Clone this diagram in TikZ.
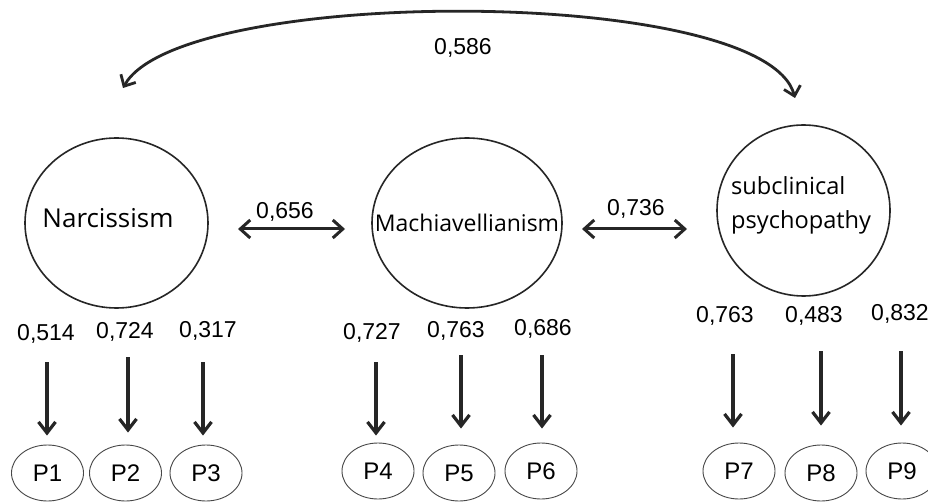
\documentclass[tikz,border=0pt]{standalone}
\usepackage{fontspec}
\setmainfont{Liberation Sans}
\newfontfamily\circfont{Open Sans}
\usetikzlibrary{arrows.meta,shapes.geometric}
\definecolor{ln}{HTML}{262626}
\begin{document}
\begin{tikzpicture}[x=1pt,y=-1pt,
 latent/.style={draw=ln, line width=1.6pt, ellipse, inner sep=0pt},
 obs/.style={draw=ln!85, line width=0.9pt, ellipse, inner sep=0pt, minimum width=72pt, minimum height=56pt, font=\fontsize{24}{24}\selectfont},
 num/.style={font=\fontsize{23}{23}\selectfont, inner sep=0pt},
 ctext/.style={font=\circfont\fontsize{23.6}{34}\selectfont, inner sep=0pt},
 load/.style={draw=ln, line width=3.2pt, -{Straight Barb[length=11pt,width=17pt]}},
 corr/.style={draw=ln, line width=3pt, {Straight Barb[length=10pt,width=18pt]}-{Straight Barb[length=10pt,width=18pt]}},
 arcline/.style={draw=ln, line width=2.8pt, {Straight Barb[length=9pt,width=17pt]}-{Straight Barb[length=9pt,width=17pt]}}
]
\path[use as bounding box, fill=white] (0,0) rectangle (928,502);

% latent variables
\node[latent, minimum width=183pt, minimum height=170pt] (N) at (116.5,223) {};
\node[latent, minimum width=190pt, minimum height=170pt] (M) at (467,223) {};
\node[latent, minimum width=173pt, minimum height=171pt] (S) at (803.5,210.5) {};
\node[ctext, font=\circfont\fontsize{26}{34}\selectfont] (Nt) at (108,218) {Narcissism};
\node[ctext, font=\circfont\fontsize{23}{34}\selectfont] (Mt) at (467,223) {Machiavellianism};
\node[ctext, align=left, anchor=west] (St) at (731,205) {subclinical\\psychopathy};

% covariances
\coordinate (c1a) at (238,229);
\coordinate (c1b) at (345,229);
\coordinate (c2a) at (582,229);
\coordinate (c2b) at (687,229);
\draw[corr] (c1a) -- (c1b);
\draw[corr] (c2a) -- (c2b);
\node[num] (v656) at (285,212) {0,656};
\node[num] (v736) at (636,209) {0,736};

\coordinate (ar1) at (123,88);
\coordinate (ar2) at (795,98);
\draw[arcline] (ar1) .. controls (180,-15) and (765,-15) .. (ar2);
\node[num] (v586) at (463,48) {0,586};

% observed
\node[obs] (P1) at (47.5,473) {P1};
\node[obs] (P2) at (125.5,473) {\raisebox{-3pt}{P2}};
\node[obs] (P3) at (206,473) {\raisebox{-2pt}{P3}};
\node[obs] (P4) at (378,471) {\raisebox{-1pt}{P4}};
\node[obs] (P5) at (459,473) {\raisebox{-3pt}{P5}};
\node[obs] (P6) at (541,471) {\raisebox{-2pt}{P6}};
\node[obs] (P7) at (739,471) {\raisebox{-1pt}{P7}};
\node[obs] (P8) at (821,473) {\raisebox{-5pt}{P8}};
\node[obs] (P9) at (902,471) {\raisebox{-2pt}{P9}};

% loadings labels
\node[num] (l1) at (46,334) {0,514};
\node[num] (l2) at (125,332) {0,724};
\node[num] (l3) at (208,331) {0,317};
\node[num] (l4) at (372,333) {0,727};
\node[num] (l5) at (456,331) {0,763};
\node[num] (l6) at (543,329) {0,686};
\node[num] (l7) at (725,316) {0,763};
\node[num] (l8) at (814,316) {0,483};
\node[num] (l9) at (900,314) {0,832};

% loading arrows
\coordinate (t1) at (47,362);
\coordinate (t2) at (128,357);
\coordinate (t3) at (203,362);
\coordinate (t4) at (376,362);
\coordinate (t5) at (461,355);
\coordinate (t6) at (542,355);
\coordinate (t7) at (733,354);
\coordinate (t8) at (821,351);
\coordinate (t9) at (901,351);
\draw[load, shorten >=9pt] (t1) -- (t1 |- P1.north);
\draw[load, shorten >=12pt] (t2) -- (t2 |- P2.north);
\draw[load, shorten >=9pt] (t3) -- (t3 |- P3.north);
\draw[load, shorten >=7pt] (t4) -- (t4 |- P4.north);
\draw[load, shorten >=16pt] (t5) -- (t5 |- P5.north);
\draw[load, shorten >=14pt] (t6) -- (t6 |- P6.north);
\draw[load, shorten >=15pt] (t7) -- (t7 |- P7.north);
\draw[load, shorten >=19pt] (t8) -- (t8 |- P8.north);
\draw[load, shorten >=17pt] (t9) -- (t9 |- P9.north);
\end{tikzpicture}
\end{document}
